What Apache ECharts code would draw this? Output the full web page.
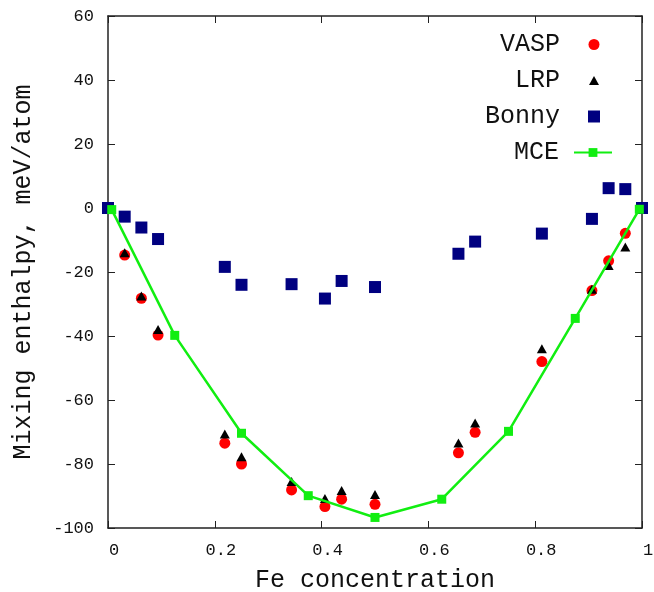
<!DOCTYPE html>
<html>
<head>
<meta charset="utf-8">
<script src="https://cdn.jsdelivr.net/npm/echarts@6/dist/echarts.min.js"></script>
<style>
  html, body { margin: 0; padding: 0; background: #fff; }
  #chart { width: 654px; height: 592px; }
</style>
</head>
<body>
<div id="chart"></div>
<script>
// Fe concentration (multiples of 1/32)
var conc = [0, 0.03125, 0.0625, 0.09375, 0.21875, 0.25, 0.34375, 0.40625, 0.4375, 0.5,
            0.65625, 0.6875, 0.8125, 0.90625, 0.9375, 0.96875, 1];
var vasp  = [0, -14.7, -28.2, -39.7, -73.5, -80.0, -88.1, -93.3, -91.0, -92.6,
             -76.5, -70.1, -48.0, -25.8, -16.5, -7.9, 0];
var lrp   = [0, -14.0, -27.5, -38.0, -70.6, -77.7, -85.5, -90.8, -88.3, -89.5,
             -73.4, -67.2, -44.0, -25.4, -18.0, -12.2, 0];
var bonny = [0, -2.7, -6.1, -9.7, -18.4, -24.0, -23.8, -28.3, -22.8, -24.7,
             -14.3, -10.5, -8.0, -3.4, 6.2, 5.9, 0];
var mceX  = [0.007, 0.125, 0.25, 0.375, 0.5, 0.625, 0.75, 0.875, 0.995];
var mceY  = [-0.5, -39.8, -70.4, -89.9, -96.7, -91.0, -69.8, -34.5, -0.4];

var font = "Liberation Mono";

function pairs(xs, ys) {
  var out = [];
  for (var i = 0; i < xs.length; i++) out.push([xs[i], ys[i]]);
  return out;
}

// one legend per entry so the icons line up on the right
function legendItem(name, top, right, w, h, padRight) {
  return {
    orient: "vertical",
    align: "right",
    right: right,
    top: top,
    itemWidth: w,
    itemHeight: h,
    selectedMode: false,
    textStyle: { fontFamily: font, fontSize: 25, color: "#111", padding: [0, padRight, 0, 0] },
    data: [name]
  };
}

var axisLine = { onZero: false, lineStyle: { color: "#222", width: 1.5 } };
var axisTick = { inside: true, length: 7, lineStyle: { color: "#222" } };

var chart = echarts.init(document.getElementById("chart"));

var option = {
  animation: false,
  backgroundColor: "#fff",
  grid: { left: 108, right: 12, top: 16, bottom: 64, outerBoundsMode: "none" },
  legend: [
    legendItem("VASP", 27, 49.5, 11, 11, 23.5),
    legendItem("LRP", 63, 50, 10, 9, 24),
    legendItem("Bonny", 99, 49, 12, 12, 23),
    legendItem("MCE", 135, 36, 38, 11, 10)
  ],
  xAxis: [{
    type: "value",
    min: 0, max: 1, interval: 0.2,
    name: "Fe concentration",
    nameLocation: "middle",
    nameGap: 40,
    nameTextStyle: { fontFamily: font, fontSize: 25, color: "#111" },
    axisLine: axisLine,
    axisTick: axisTick,
    axisLabel: {
      fontFamily: font, fontSize: 17, color: "#111", margin: 14,
      padding: [0, 0, 0, 12],
      formatter: function (v) { return v === 0 ? "0" : v === 1 ? "1" : v.toFixed(1); }
    },
    splitLine: { show: false }
  }, {
    type: "value",
    position: "top",
    min: 0, max: 1, interval: 0.2,
    axisLine: axisLine,
    axisTick: axisTick,
    axisLabel: { show: false },
    splitLine: { show: false }
  }],
  yAxis: [{
    type: "value",
    min: -100, max: 60, interval: 20,
    name: "Mixing enthalpy, meV/atom",
    nameLocation: "middle",
    nameRotate: 90,
    nameGap: 72,
    nameTextStyle: { fontFamily: font, fontSize: 25, color: "#111" },
    axisLine: axisLine,
    axisTick: axisTick,
    axisLabel: { fontFamily: font, fontSize: 17, color: "#111", margin: 14 },
    splitLine: { show: false }
  }, {
    type: "value",
    position: "right",
    min: -100, max: 60, interval: 20,
    axisLine: axisLine,
    axisTick: axisTick,
    axisLabel: { show: false },
    splitLine: { show: false }
  }],
  series: [{
    name: "VASP",
    type: "scatter",
    clip: false,
    symbol: "circle",
    symbolSize: 11,
    itemStyle: { color: "#ff0000", opacity: 1 },
    data: pairs(conc, vasp)
  }, {
    name: "LRP",
    type: "scatter",
    clip: false,
    symbol: "triangle",
    symbolSize: [10, 9],
    itemStyle: { color: "#000", opacity: 1 },
    data: pairs(conc, lrp)
  }, {
    name: "Bonny",
    type: "scatter",
    clip: false,
    symbol: "rect",
    symbolSize: 12,
    itemStyle: { color: "#000080", opacity: 1 },
    data: pairs(conc, bonny)
  }, {
    name: "MCE",
    type: "line",
    clip: false,
    symbol: "rect",
    symbolSize: 9,
    showAllSymbol: true,
    itemStyle: { color: "#11ee11", opacity: 1 },
    lineStyle: { color: "#11ee11", width: 2.5 },
    data: pairs(mceX, mceY)
  }]
};

chart.setOption(option);
</script>
</body>
</html>
